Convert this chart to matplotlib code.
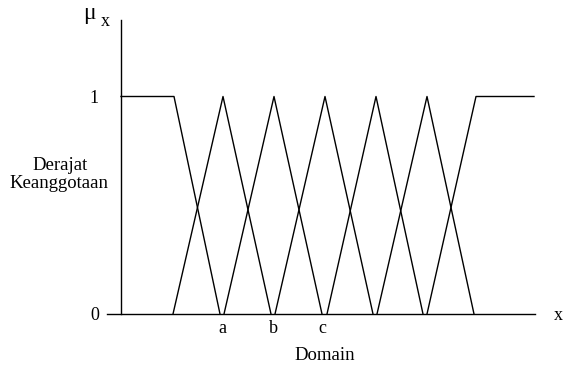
import matplotlib
matplotlib.use("Agg")
import matplotlib.pyplot as plt

# membership functions (x in domain units, mu in 0..1)
left_x = [0, 53, 99]
left_mu = [1, 1, 0]

tri_feet_left = [52, 103, 154, 206, 256]
tri_peaks = [102, 153, 204, 255, 306]
tri_feet_right = [150, 201, 252, 302, 353]

right_x = [306, 355, 413]
right_mu = [0, 1, 1]

tick_pos = [101, 152, 201]
tick_labels = ["a", "b", "c"]

plt.rcParams['font.family'] = ['Liberation Serif', 'DejaVu Serif']

fig = plt.figure(figsize=(5.63, 3.67), dpi=100, facecolor="white")
W, H = 563, 367
ax = fig.add_axes([107 / W, 53 / H, 428 / W, 294 / H])

ax.plot(left_x, left_mu, color="black", lw=1.0)
for l, p, r in zip(tri_feet_left, tri_peaks, tri_feet_right):
    ax.plot([l, p, r], [0, 1, 0], color="black", lw=1.0)
ax.plot(right_x, right_mu, color="black", lw=1.0)

ax.set_xlim(-14, 414)
ax.set_ylim(0, 294 / 217.5)

ax.spines[["top", "right"]].set_visible(False)
ax.spines["left"].set_position(("data", 0))
ax.spines[["left", "bottom"]].set_linewidth(1.0)

ax.set_yticks([0, 1])
ax.set_yticklabels(["0", "1"])
ax.set_xticks(tick_pos)
ax.set_xticklabels(tick_labels)
ax.tick_params(axis="y", length=0, pad=16, labelsize=13)
ax.tick_params(axis="x", length=0, pad=4, labelsize=13)

# axis annotations
fig.text(89 / W, 1 - 14 / H, "\u03bc", ha="center", va="center", fontsize=17)
fig.text(105 / W, 1 - 22 / H, "x", ha="center", va="center", fontsize=13)
fig.text(60 / W, 1 - 165 / H, "Derajat", ha="center", va="center", fontsize=13.5)
fig.text(58.5 / W, 1 - 184 / H, "Keanggotaan", ha="center", va="center", fontsize=13.5)
fig.text(558 / W, 1 - 316 / H, "x", ha="center", va="center", fontsize=13)
fig.text(325 / W, 1 - 355 / H, "Domain", ha="center", va="center", fontsize=13.5)

fig.savefig("out.png", dpi=100, facecolor="white")
